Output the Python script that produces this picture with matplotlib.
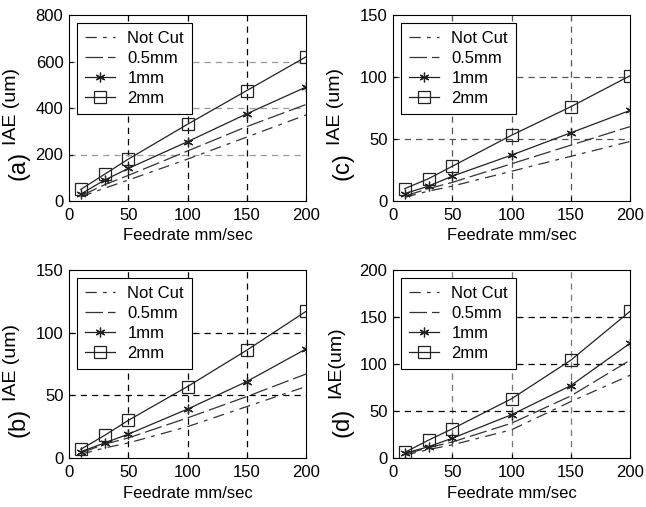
import matplotlib
matplotlib.use("Agg")
import matplotlib.pyplot as plt

plt.rcParams['font.family'] = ['Liberation Sans', 'DejaVu Sans']

feedrate = [10, 30, 50, 100, 150, 200]
series_names = ["Not Cut", "0.5mm", "1mm", "2mm"]

a_notcut = [18, 55, 90, 180, 275, 370]
a_05 = [22, 70, 110, 215, 320, 415]
a_1 = [30, 90, 140, 255, 375, 490]
a_2 = [50, 115, 180, 330, 475, 620]

b_notcut = [3, 8, 12, 25, 41, 57]
b_05 = [4, 11, 16, 32, 49, 67]
b_1 = [5, 12, 19, 39, 61, 87]
b_2 = [7, 18, 30, 57, 86, 117]

c_notcut = [3, 8, 12, 24, 36, 48]
c_05 = [4, 10, 15, 30, 45, 60]
c_1 = [6, 12, 20, 37, 55, 73]
c_2 = [10, 18, 28, 53, 76, 101]

d_notcut = [3, 9, 14, 30, 60, 88]
d_05 = [4, 11, 17, 37, 66, 104]
d_1 = [5, 12, 21, 46, 77, 122]
d_2 = [6, 19, 31, 63, 104, 156]

xticks = [0, 50, 100, 150, 200]
a_yticks = [0, 200, 400, 600, 800]
b_yticks = [0, 50, 100, 150]
c_yticks = [0, 50, 100, 150]
d_yticks = [0, 50, 100, 150, 200]

W, H = 646, 507
fig = plt.figure(figsize=(W / 100, H / 100), dpi=100)

panels = [
    ("(a)", "IAE (um)", (69, 15, 306, 201), a_yticks, [a_notcut, a_05, a_1, a_2], '#999999', 'k'),
    ("(c)", "IAE (um)", (393, 15, 630, 201), c_yticks, [c_notcut, c_05, c_1, c_2], '#555555', '#555555'),
    ("(b)", "IAE (um)", (69, 270, 306, 458), b_yticks, [b_notcut, b_05, b_1, b_2], 'k', 'k'),
    ("(d)", "IAE(um)", (393, 270, 630, 458), d_yticks, [d_notcut, d_05, d_1, d_2], 'k', '#777777'),
]

styles = [
    dict(color='#333333', lw=0.9, ls=(0, (9, 5, 3, 5))),
    dict(color='#333333', lw=0.9, ls=(0, (14, 4))),
    dict(color='#222222', lw=0.9, ls='-', marker=(6, 2, 0), ms=7, mew=0.9),
    dict(color='#222222', lw=0.9, ls='-', marker='s', ms=9, mfc='none', mew=0.9),
]

for tag, ylab, (l, t, r, b), yt, data, ygc, xgc in panels:
    ax = fig.add_axes([l / W, 1 - b / H, (r - l) / W, (b - t) / H])
    for name, vals, st in zip(series_names, data, styles):
        ax.plot(feedrate, vals, label=name, **st)
    ax.set_xlim(0, 200)
    ax.set_ylim(yt[0], yt[-1])
    ax.set_xticks(xticks)
    ax.set_yticks(yt)
    for xv in xticks[1:-1]:
        ax.axvline(xv, color=xgc, lw=0.9, ls=(0, (5, 4)), zorder=0)
    for yv in yt[1:-1]:
        ax.axhline(yv, color=ygc, lw=0.9, ls=(0, (5, 4)), zorder=0)
    ax.tick_params(labelsize=12, direction='in', length=3, width=0.8)
    ax.tick_params(axis='x', pad=5)
    ax.tick_params(axis='y', pad=4)
    ax.set_xlabel("Feedrate mm/sec", fontsize=12, labelpad=4)
    ax.set_ylabel(ylab, fontsize=14)
    ax.yaxis.set_label_coords(-0.205, 0.51)
    ax.text(-0.215, 0.19, tag, transform=ax.transAxes, rotation=90,
            fontsize=17, ha='center', va='center')
    for s in ax.spines.values():
        s.set_linewidth(0.8)
    leg = ax.legend(loc='upper left', fontsize=12, frameon=True, fancybox=False,
                    edgecolor='k', framealpha=1, handlelength=1.8, borderpad=0.5,
                    labelspacing=0.3, handletextpad=0.75, borderaxespad=0.45)
    leg.get_frame().set_linewidth(0.8)

fig.savefig("out.png", dpi=100)
